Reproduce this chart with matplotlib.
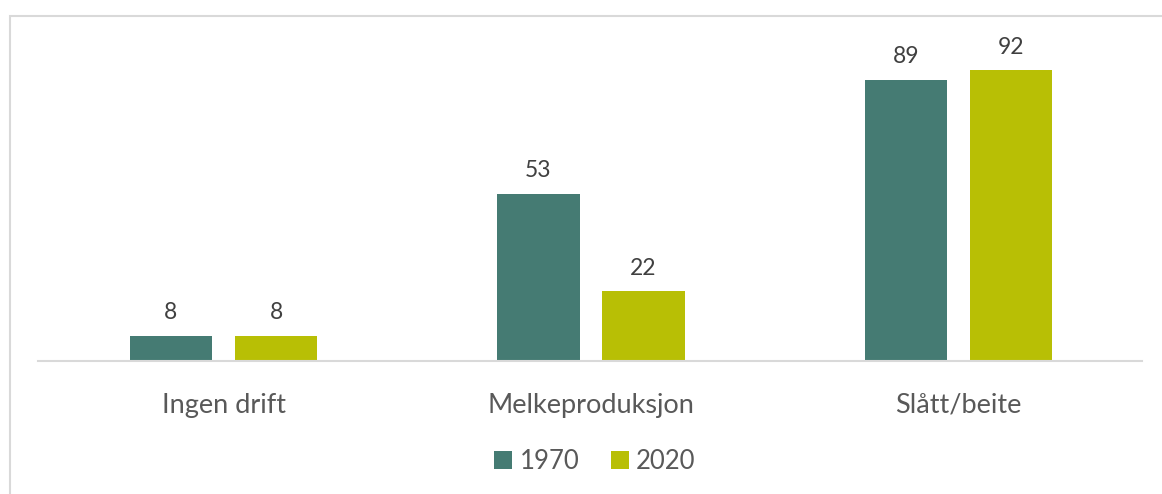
import matplotlib
matplotlib.use("Agg")
import matplotlib.pyplot as plt
import numpy as np
from matplotlib.patches import Rectangle

# data
kategorier = ["Ingen drift", "Melkeproduksjon", "Slått/beite"]
aar = ["1970", "2020"]
verdier_1970 = [8, 53, 89]
verdier_2020 = [8, 22, 92]

FARGER = ["#457B73", "#B8BF05"]
plt.rcParams["font.family"] = ["Lato", "DejaVu Sans"]

fig = plt.figure(figsize=(11.62, 4.94), dpi=100)
ax = fig.add_axes([38 / 1162, 133 / 494, 1104 / 1162, 316 / 494])

# light grey frame around the chart area
fig.patches.append(Rectangle((10 / 1162, -0.1), 1.2, (494 - 16) / 494 + 0.1,
                             transform=fig.transFigure, fill=False,
                             edgecolor="#D9D9D9", linewidth=1.5))

x = np.arange(len(kategorier))
bredde = 0.224
offset = 0.143
for i, (verdier, farge) in enumerate(zip([verdier_1970, verdier_2020], FARGER)):
    pos = x + (i * 2 - 1) * offset
    bars = ax.bar(pos, verdier, width=bredde, color=farge, label=aar[i])
    for b, v in zip(bars, verdier):
        ax.text(b.get_x() + b.get_width() / 2, v + 4, str(v), ha="center",
                va="bottom", fontsize=16.5, color="#404040")

ax.set_xlim(-0.505, 2.5)
ax.set_ylim(0, 100)
ax.set_xticks(x)
ax.set_xticklabels(kategorier, fontsize=19.5, color="#595959")
ax.tick_params(axis="x", length=0, pad=23)
ax.set_yticks([])
for s in ["top", "right", "left"]:
    ax.spines[s].set_visible(False)
ax.spines["bottom"].set_color("#D9D9D9")
ax.spines["bottom"].set_linewidth(1.5)

leg = fig.legend(loc="center", bbox_to_anchor=(595 / 1162, 1 - 461 / 494),
                 ncol=2, frameon=False, fontsize=18.5, handlelength=0.7,
                 handleheight=0.7, handletextpad=0.3, columnspacing=1.2)
for t in leg.get_texts():
    t.set_color("#595959")

fig.savefig("out.png", dpi=100)
